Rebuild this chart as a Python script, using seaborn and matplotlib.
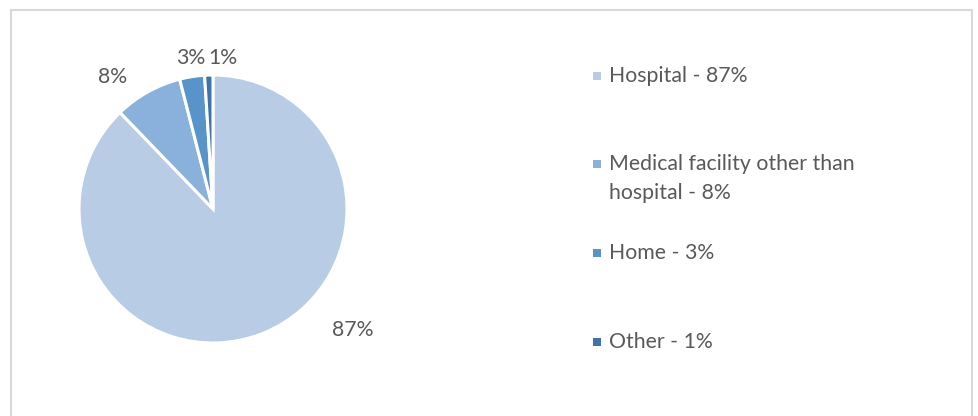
import matplotlib
matplotlib.use('Agg')
import matplotlib.pyplot as plt
import seaborn as sns
from matplotlib.patches import Rectangle

# 데이터
categories = ['Hospital', 'Medical facility other than\nhospital', 'Home', 'Other']
shares = [87.8, 8.2, 3.0, 1.0]
pct_labels = ['87%', '8%', '3%', '1%']
colors = ['#B8CCE6', '#8AB0DC', '#5893CA', '#3D72AA']

sns.set_theme(style='white')
plt.rcParams['font.family'] = ['Lato', 'DejaVu Sans']
TEXT_COLOR = '#595959'
FS = 15.3

W, H = 979, 416
fig = plt.figure(figsize=(W / 100, H / 100), dpi=100)

# 바깥 테두리
fig.patches.append(Rectangle((10.5 / W, -0.05), (972 - 10.5) / W, (H - 9.5) / H + 0.05,
                             transform=fig.transFigure, fill=False,
                             edgecolor='#D9D9D9', linewidth=1.5))

# 파이 차트 (중심 213, 209 / 반지름 134 px)
cx, cy, r = 213, 209, 134
ax = fig.add_axes([(cx - r) / W, (H - cy - r) / H, 2 * r / W, 2 * r / H])
ax.pie(shares, colors=colors, startangle=90, counterclock=False, radius=1,
       wedgeprops={'edgecolor': 'white', 'linewidth': 2.2})
ax.set_xlim(-1, 1)
ax.set_ylim(-1, 1)
ax.set_aspect('equal')
ax.axis('off')

# 퍼센트 레이블 위치 (파이 좌표)
label_pos = [(1.04, -0.90), (-0.75, 0.985), (-0.17, 1.13), (0.075, 1.13)]
for txt, (lx, ly) in zip(pct_labels, label_pos):
    ax.text(lx, ly, txt, ha='center', va='center', fontsize=FS, color=TEXT_COLOR,
            clip_on=False)

# 범례 (수동 배치, 줄 간격 29px)
legend_y = [76, 164, 253, 342]
for cat, pct, col, y in zip(categories, pct_labels, colors, legend_y):
    fig.patches.append(Rectangle((593 / W, (H - y - 4) / H), 8 / W, 8 / H,
                                 transform=fig.transFigure, facecolor=col,
                                 edgecolor='none'))
    lines = f'{cat} - {pct}'.split('\n')
    for i, line in enumerate(lines):
        fig.text(609 / W, (H - y - 29 * i) / H, line, ha='left', va='center',
                 fontsize=FS, color=TEXT_COLOR)

fig.savefig('out.png', dpi=100, facecolor='white')
